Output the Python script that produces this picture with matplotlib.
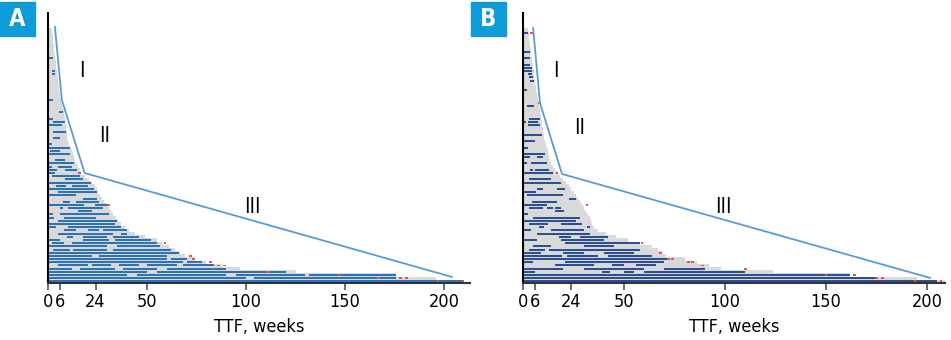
import matplotlib
matplotlib.use("Agg")
import matplotlib.pyplot as plt
from matplotlib.patches import Rectangle

plt.rcParams['font.family'] = ['DejaVu Sans']
plt.rcParams['font.stretch'] = 'condensed'

GREY = "#d9d9d9"
BLUE_A = "#2e72b6"
BLUE_B = "#2c4f93"
RED = "#e8553f"
LINE = "#5b9bd5"
TAG = "#0f9bd7"

# weeks to treatment failure, one bar per patient (top = shortest)
lengths_A = [2.0, 2.2, 2.4, 2.5, 2.7, 2.9, 3.0, 3.2, 3.4, 3.6,
             3.8, 4.0, 4.2, 4.4, 4.6, 4.8, 5.0, 5.2, 5.4, 5.6,
             5.9, 6.2, 6.6, 7.0, 7.3, 7.6, 7.9, 8.2, 8.5, 8.8,
             9.0, 9.2, 9.4, 9.6, 9.8, 10.2, 10.8, 11.4, 12.0, 12.6,
             13.2, 13.8, 14.5, 15.2, 16.0, 16.8, 18.5, 20.5, 22.0, 23.5,
             24.5, 25.5, 26.5, 27.5, 28.5, 30.0, 31.0, 32.0, 33.0, 34.5,
             35.5, 37.0, 39.0, 41.0, 44.0, 49.0, 55.0, 58.0, 61.0, 64.0,
             66.5, 69.0, 74.0, 80.0, 88.0, 97.0, 125.0, 176.0, 196.0, 210.0]

lengths_B = [2.5, 2.8, 3.0, 3.2, 3.4, 3.6, 3.8, 4.0, 4.2, 4.4,
             4.6, 4.8, 5.0, 5.2, 5.4, 5.6, 5.8, 6.0, 6.2, 6.4,
             6.7, 7.0, 7.3, 7.6, 7.9, 8.2, 8.5, 8.8, 9.1, 9.4,
             9.6, 9.8, 10.0, 10.3, 10.6, 11.0, 11.4, 11.8, 12.2, 12.6,
             13.0, 13.4, 14.0, 15.0, 16.0, 17.0, 18.5, 20.0, 21.5, 23.0,
             24.0, 25.0, 26.0, 27.0, 28.0, 29.0, 30.0, 31.0, 32.0, 33.0,
             33.5, 34.0, 35.0, 37.0, 41.0, 46.0, 52.0, 58.0, 64.0, 67.0,
             69.0, 71.0, 80.0, 86.0, 92.0, 98.0, 124.0, 162.0, 195.0, 209.0]

# (row, start week, end week)
blue_A = [(9, 0.3, 2.5), (13, 2.0, 3.5), (14, 2.0, 3.5), (22, 0.3, 2.5), (26, 5.5, 7.5),
          (28, 0.3, 2.5), (29, 2.5, 8.5), (30, 0.3, 7.0), (32, 2.5, 8.0), (32, 8.2, 9.3),
          (34, 2.5, 6.0), (36, 0.3, 2.0), (37, 0.3, 11.0), (38, 1.0, 6.0), (39, 0.3, 11.0),
          (41, 3.5, 8.6), (42, 0.3, 13.0), (43, 0.3, 2.0), (43, 5.0, 12.0), (44, 0.3, 4.5),
          (44, 8.6, 14.6), (45, 0.3, 3.5), (46, 2.0, 16.0), (47, 8.6, 17.7), (48, 0.3, 21.5),
          (49, 4.0, 9.0), (49, 12.0, 20.0), (50, 0.3, 23.0), (51, 5.0, 9.5), (51, 9.5, 24.5),
          (52, 0.3, 14.0), (53, 17.7, 24.7), (54, 7.5, 11.0), (54, 14.0, 26.0), (55, 23.7, 29.8),
          (55, 0.3, 18.0), (56, 6.0, 7.5), (56, 10.0, 28.0), (57, 15.0, 22.0), (58, 0.3, 2.5),
          (58, 6.0, 31.0), (59, 0.3, 3.0), (59, 8.0, 24.0), (60, 5.0, 35.0), (61, 0.3, 34.0),
          (62, 0.3, 4.0), (62, 10.0, 37.0), (63, 8.0, 14.0), (63, 20.0, 26.0), (63, 28.0, 40.0),
          (64, 5.0, 33.0), (64, 37.0, 40.0), (65, 9.6, 12.6), (65, 17.7, 30.0), (65, 33.0, 46.0),
          (66, 0.3, 6.0), (66, 17.7, 31.0), (66, 34.0, 52.0), (67, 2.0, 8.0), (67, 12.0, 55.0),
          (68, 0.3, 30.0), (68, 35.0, 56.5), (69, 2.5, 11.0), (69, 12.6, 29.8), (69, 33.0, 62.0),
          (70, 0.3, 66.0), (71, 0.3, 22.0), (71, 26.0, 60.0), (72, 0.3, 60.0), (72, 62.0, 70.0),
          (73, 0.3, 68.0), (73, 70.0, 78.0), (74, 5.0, 20.0), (74, 22.0, 32.0), (74, 36.0, 46.0),
          (74, 50.0, 65.0), (74, 68.0, 84.0), (75, 0.3, 12.0), (75, 16.0, 34.0), (75, 38.0, 55.0),
          (75, 60.0, 90.0), (76, 0.3, 50.0), (76, 55.0, 120.0), (77, 0.3, 40.0), (77, 45.0, 90.0),
          (77, 95.0, 130.0), (77, 132.0, 176.0), (78, 0.3, 100.0), (78, 104.0, 176.0),
          (79, 0.3, 209.0)]

blue_B = [(1, 0.5, 2.5), (7, 0.5, 3.5), (9, 0.5, 3.5), (11, 0.5, 3.5), (12, 0.5, 4.5),
          (13, 0.5, 4.5), (14, 2.5, 4.5), (15, 3.0, 5.0), (16, 3.5, 5.5), (19, 0.5, 2.0),
          (24, 2.0, 5.5), (28, 3.0, 8.4), (29, 0.5, 1.5), (29, 2.5, 7.5), (30, 2.5, 8.5),
          (33, 0.5, 9.5), (35, 0.5, 6.0), (37, 0.5, 2.5), (39, 0.5, 10.9), (40, 0.5, 3.5),
          (40, 7.0, 10.0), (42, 0.5, 2.0), (42, 4.0, 12.0), (44, 3.5, 5.0), (44, 6.0, 13.0),
          (45, 0.5, 15.0), (47, 3.0, 14.0), (48, 0.5, 19.0), (50, 7.0, 10.0), (50, 17.0, 21.0),
          (51, 0.5, 6.5), (52, 2.0, 20.0), (53, 23.0, 26.0), (54, 4.5, 16.8), (55, 0.5, 12.0),
          (56, 3.0, 10.0), (56, 12.0, 15.0), (56, 16.0, 19.0), (57, 16.0, 20.5), (58, 0.5, 2.5),
          (59, 5.0, 28.0), (60, 0.5, 26.0), (61, 3.0, 12.5), (61, 19.0, 29.0), (62, 8.0, 10.5),
          (62, 31.6, 33.0), (63, 0.5, 4.0), (63, 14.0, 30.0), (64, 7.0, 33.0), (65, 18.0, 24.0),
          (65, 28.0, 42.0), (66, 0.5, 7.0), (66, 19.0, 40.0), (67, 21.0, 58.0), (68, 5.0, 14.0),
          (68, 30.0, 45.0), (69, 3.0, 11.0), (69, 13.0, 58.0), (70, 0.5, 9.0), (70, 20.0, 30.0),
          (70, 40.0, 55.0), (71, 0.5, 19.5), (71, 22.0, 37.0), (71, 42.0, 64.0), (72, 0.5, 72.0),
          (73, 0.5, 5.0), (73, 21.0, 70.0), (74, 16.0, 35.0), (74, 44.0, 50.0), (74, 56.0, 66.0),
          (75, 0.5, 20.0), (75, 30.0, 60.0), (75, 70.0, 90.0), (76, 0.5, 6.0), (76, 39.0, 43.0),
          (76, 50.0, 55.0), (76, 60.0, 110.0), (77, 0.5, 131.0), (77, 131.0, 162.0),
          (78, 0.5, 175.0), (79, 0.5, 205.0)]

# (row, week) of failure markers
red_A = [(45, 16.0), (55, 30.5), (67, 59.0), (71, 72.0), (72, 73.5), (73, 82.0), (74, 86.0),
         (74, 89.0), (76, 111.0), (77, 147.0), (78, 167.0), (78, 178.0), (78, 181.0),
         (79, 197.0), (79, 209.5)]
red_B = [(1, 4.2), (23, 8.0), (45, 16.8), (55, 31.7), (67, 59.0), (70, 68.0), (72, 72.0),
         (72, 74.0), (73, 82.0), (73, 84.0), (74, 89.0), (75, 110.0), (77, 150.0), (77, 164.0),
         (78, 175.0), (78, 178.0), (79, 194.0), (79, 207.0)]

# three-phase envelope (weeks, row)
env_A_x = [3.5, 7.0, 18.5, 204.0]
env_A_y = [-0.8, 22.1, 45.0, 77.6]
env_B_x = [5.0, 8.4, 19.3, 201.5]
env_B_y = [-0.5, 23.0, 45.3, 77.9]

phase_labels = ["I", "II", "III"]
phase_A = [(17.2, 13.0), (28.8, 33.4), (103.0, 55.6)]
phase_B = [(16.3, 13.0), (28.2, 30.8), (99.0, 55.6)]

ticks = [0, 6, 24, 50, 100, 150, 200]


def draw_panel(ax, lengths, blue, red, env_x, env_y, phase, blue_color, xmax):
    rows = list(range(len(lengths)))
    ax.barh(rows, lengths, height=1.0, color=GREY, linewidth=0)
    for r, s, e in blue:
        ax.barh(r, e - s, left=s, height=0.62, color=blue_color, linewidth=0)
    for r, w in red:
        ax.barh(r, 1.3, left=w - 0.65, height=0.6, color=RED, linewidth=0)
    ax.plot(env_x, env_y, color=LINE, lw=1.3)
    for lab, (x, y) in zip(phase_labels, phase):
        ax.text(x, y, lab, fontsize=15, ha='center', va='center')
    ax.set_xlim(0, xmax)
    ax.set_ylim(79.5, -5.2)
    ax.set_yticks([])
    ax.set_xticks(ticks)
    ax.tick_params(axis='x', length=5, width=1.2, color='#555555', labelsize=13, pad=2)
    for side in ['top', 'right']:
        ax.spines[side].set_visible(False)
    ax.spines['left'].set_linewidth(1.5)
    ax.spines['left'].set_color('black')
    ax.spines['bottom'].set_linewidth(1.5)
    ax.spines['bottom'].set_color('#333333')
    ax.set_xlabel("TTF, weeks", fontsize=13, labelpad=5)


fig = plt.figure(figsize=(9.51, 3.40), dpi=100)
axA = fig.add_axes([48 / 951, 57 / 340, 422 / 951, 270 / 340])
axB = fig.add_axes([523 / 951, 57 / 340, 422 / 951, 270 / 340])

draw_panel(axA, lengths_A, blue_A, red_A, env_A_x, env_A_y, phase_A, BLUE_A, 422 / 1.98)
draw_panel(axB, lengths_B, blue_B, red_B, env_B_x, env_B_y, phase_B, BLUE_B, 422 / 2.02)

# panel tags
for x0, letter in [(0, "A"), (471, "B")]:
    fig.patches.append(Rectangle((x0 / 951, 304 / 340), 35 / 951, 34 / 340,
                                 transform=fig.transFigure, color=TAG, zorder=5))
    fig.text((x0 + 17.5) / 951, 321 / 340, letter, color='white', fontsize=17,
             fontweight='bold', ha='center', va='center', zorder=6)

fig.savefig("out.png", dpi=100)
